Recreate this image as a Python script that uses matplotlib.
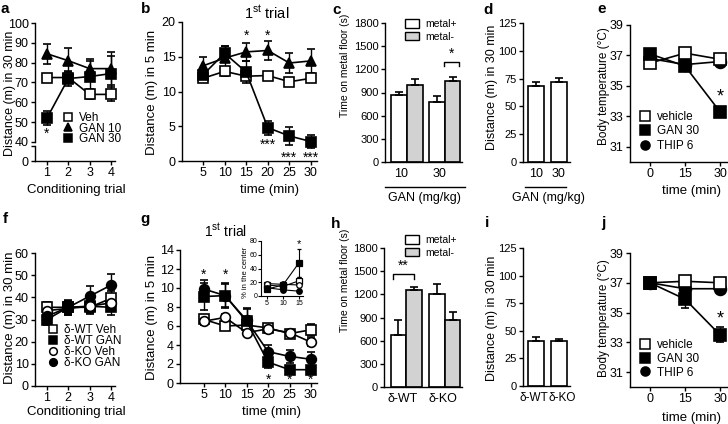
import numpy as np
import matplotlib.pyplot as plt
from matplotlib.lines import Line2D
from matplotlib.patches import Patch

plt.rcParams['font.family'] = ['Liberation Sans', 'DejaVu Sans']
plt.rcParams['mathtext.fontset'] = 'custom'
plt.rcParams['mathtext.rm'] = 'Liberation Sans'
plt.rcParams['axes.linewidth'] = 1.0

# ---- data ----
trials = [1, 2, 3, 4]
a_veh = [72.5, 72.5, 64, 64]
a_veh_err = [2, 3, 2.5, 3.5]
a_gan10 = [84.5, 81, 77, 77]
a_gan10_err = [5, 6.5, 5, 8.5]
a_gan30 = [52, 72, 73, 74.5]
a_gan30_err = [3.5, 4, 8, 9]

minutes = [5, 10, 15, 20, 25, 30]
b_veh = [11.9, 12.9, 12.2, 12.3, 11.4, 11.9]
b_veh_err = [0.6, 0.6, 0.5, 0.5, 0.5, 0.6]
b_gan10 = [13.7, 14.8, 15.7, 15.9, 14.1, 14.4]
b_gan10_err = [1.2, 1.8, 1.3, 1.4, 1.4, 1.7]
b_gan30 = [12.4, 15.5, 12.8, 4.8, 3.6, 2.8]
b_gan30_err = [0.8, 1.1, 1.6, 1.0, 1.3, 1.0]

gan_doses = ['10', '30']
c_plus = [870, 783]
c_plus_err = [35, 78]
c_minus = [1000, 1043]
c_minus_err = [75, 53]
d_dist = [68, 71.5]
d_dist_err = [4, 4]

temp_times = [0, 15, 30]
e_veh = [36.5, 37.15, 36.75]
e_veh_err = [0.2, 0.2, 0.2]
e_gan30 = [37.1, 36.3, 33.3]
e_gan30_err = [0.2, 0.35, 0.25]
e_thip = [36.8, 36.4, 36.6]
e_thip_err = [0.2, 0.3, 0.2]

f_wt_veh = [35.5, 35.5, 35.5, 39.5]
f_wt_veh_err = [2.5, 3, 2, 3.5]
f_wt_gan = [30, 35.5, 36, 35.5]
f_wt_gan_err = [2.5, 3, 3.5, 3.5]
f_ko_veh = [34, 35, 36, 37.5]
f_ko_veh_err = [3, 3, 3, 3]
f_ko_gan = [31.5, 35.5, 40.5, 45.5]
f_ko_gan_err = [3, 3.5, 4.5, 5]

g_wt_veh = [6.7, 6.0, 6.1, 5.8, 5.2, 5.6]
g_wt_veh_err = [0.5, 0.3, 0.4, 0.4, 0.4, 0.6]
g_wt_gan = [9.1, 9.2, 6.5, 2.2, 1.4, 1.4]
g_wt_gan_err = [1.4, 1.2, 1.3, 0.6, 0.3, 0.3]
g_ko_veh = [6.5, 6.9, 5.3, 5.7, 5.3, 4.3]
g_ko_veh_err = [0.4, 0.4, 0.3, 0.4, 0.3, 0.4]
g_ko_gan = [9.9, 9.2, 6.6, 3.3, 2.8, 2.5]
g_ko_gan_err = [0.9, 1.3, 1.3, 0.7, 0.7, 0.8]

inset_times = [5, 10, 15]
in_wt_veh = [16, 14, 22]
in_wt_veh_err = [2, 2, 6]
in_wt_gan = [10, 16, 48]
in_wt_gan_err = [2, 2, 20]
in_ko_veh = [18, 17, 16]
in_ko_veh_err = [2, 2, 3]
in_ko_gan = [12, 9, 7]
in_ko_gan_err = [2, 2, 3]

genotypes = ['\u03b4-WT', '\u03b4-KO']
h_plus = [674, 1204]
h_plus_err = [196, 130]
h_minus = [1261, 870]
h_minus_err = [35, 95]
i_dist = [41, 40.5]
i_dist_err = [3.5, 2.5]

j_veh = [37.0, 37.1, 37.0]
j_veh_err = [0.15, 0.2, 0.2]
j_gan30 = [37.0, 35.9, 33.5]
j_gan30_err = [0.15, 0.6, 0.5]
j_thip = [37.0, 36.6, 36.6]
j_thip_err = [0.15, 0.2, 0.3]

W, H = 728, 424
fig = plt.figure(figsize=(W / 100, H / 100), dpi=100)


def box(l, t, r, b):
    return [l / W, 1 - b / H, (r - l) / W, (b - t) / H]


def ftext(x, y, s, **kw):
    fig.text(x / W, 1 - y / H, s, **kw)


def style(ax, fs=9):
    ax.spines[['top', 'right']].set_visible(False)
    ax.tick_params(direction='out', length=3, width=1, labelsize=fs, pad=1.5)


def series(ax, x, y, err, marker, filled, ms=7):
    ax.errorbar(x, y, yerr=err, color='k', marker=marker, ms=ms,
                mfc='k' if filled else 'white', mec='k', mew=1.2, lw=1.2,
                capsize=3, elinewidth=1, capthick=1, clip_on=False, zorder=3)


def bar_pair(ax, plus, plus_err, minus, minus_err, width=0.41):
    pos = np.arange(len(plus))
    ekw = dict(ecolor='k', capsize=3, elinewidth=1.2, capthick=1.2)
    ax.bar(pos - width / 2, plus, width, yerr=[np.zeros(len(plus)), plus_err],
           color='white', edgecolor='k', linewidth=1.2, error_kw=ekw)
    ax.bar(pos + width / 2, minus, width, yerr=[np.zeros(len(minus)), minus_err],
           color='#d2d2d2', edgecolor='k', linewidth=1.2, error_kw=ekw)


def legend_at(ax, handles, labels, x0, ytop, fs, spacing, hl=1.0, pad=0.45, hh=0.7):
    ax.legend(handles, labels, loc='upper left', frameon=False, fontsize=fs,
              bbox_to_anchor=(x0 / W, 1 - ytop / H), bbox_transform=fig.transFigure,
              borderpad=0, borderaxespad=0, handlelength=hl, handletextpad=pad,
              handleheight=hh, labelspacing=spacing)


def mk(marker, filled, ms=5.5):
    return Line2D([], [], ls='none', marker=marker, ms=ms, mfc='k' if filled else 'white',
                  mec='k', mew=1.1)


# ---- panel a (broken axis) ----
ax_a = fig.add_axes(box(35, 23, 115, 142))
style(ax_a)
ax_a.spines['bottom'].set_visible(False)
ax_a.set_ylim(40, 100)
ax_a.set_yticks([40, 50, 60, 70, 80, 90, 100])
ax_a.set_xlim(0.44, 4.19)
ax_a.set_xticks([])
series(ax_a, trials, a_veh, a_veh_err, 's', False)
series(ax_a, trials, a_gan10, a_gan10_err, '^', True)
series(ax_a, trials, a_gan30, a_gan30_err, 's', True)
ax_a.text(1, 44, '*', ha='center', va='center', fontsize=10)
legend_at(ax_a, [mk('s', False), mk('^', True), mk('s', True)], ['Veh', 'GAN 10', 'GAN 30'],
          62, 112, 8.5, -0.12)
ax_a0 = fig.add_axes(box(35, 146, 115, 161))
style(ax_a0)
ax_a0.set_ylim(0, 7.5)
ax_a0.set_yticks([0, 7.5])
ax_a0.set_yticklabels(['0', ''])
ax_a0.set_xlim(0.44, 4.19)
ax_a0.set_xticks(trials)
ftext(10, 93, 'Distance (m) in 30 min', rotation=90, ha='center', va='center', fontsize=9)
ftext(76, 190, 'Conditioning trial', ha='center', va='center', fontsize=9.5)

# ---- panel b ----
ax_b = fig.add_axes(box(182, 22, 317, 161))
style(ax_b)
ax_b.set_xlim(0.14, 31.4)
ax_b.set_ylim(0, 20)
ax_b.set_xticks(minutes)
ax_b.set_yticks([0, 5, 10, 15, 20])
series(ax_b, minutes, b_veh, b_veh_err, 's', False)
series(ax_b, minutes, b_gan10, b_gan10_err, '^', True)
series(ax_b, minutes, b_gan30, b_gan30_err, 's', True)
for t in [15, 20]:
    ax_b.text(t, 18.0, '*', ha='center', va='center', fontsize=10)
for t, yv in zip([20, 25, 30], [2.4, 0.5, 0.5]):
    ax_b.text(t, yv, '***', ha='center', va='center', fontsize=10)
ftext(152, 92, 'Distance (m) in 5 min', rotation=90, ha='center', va='center', fontsize=9.5)
ftext(270, 190, 'time (min)', ha='center', va='center', fontsize=9.5)
ftext(267, 13, '1$^{\\mathrm{st}}$ trial', ha='center', va='center', fontsize=10.5)

# ---- panel c ----
ax_c = fig.add_axes(box(385, 23, 462, 162))
style(ax_c, 8)
ax_c.set_ylim(0, 1800)
ax_c.set_yticks(range(0, 1801, 300))
ax_c.set_xlim(-0.58, 1.45)
bar_pair(ax_c, c_plus, c_plus_err, c_minus, c_minus_err)
ax_c.set_xticks([-0.15, 0.85])
ax_c.set_xticklabels(gan_doses)
ax_c.tick_params(axis='x', length=0, pad=4, labelsize=9)
ax_c.plot([0.98, 0.98, 1.38, 1.38], [1240, 1290, 1290, 1240], color='k', lw=1, clip_on=False)
ax_c.text(1.18, 1400, '*', ha='center', va='center', fontsize=10)
ax_c.plot([0, 1.04], [-0.18, -0.18], transform=ax_c.transAxes, color='k', lw=1, clip_on=False)
legend_at(ax_c, [Patch(fc='white', ec='k', lw=1), Patch(fc='#d2d2d2', ec='k', lw=1)],
          ['metal+', 'metal-'], 405, 19, 7.5, 0.25, hl=1.35, pad=0.55, hh=0.85)
ftext(345, 65, 'Time on metal floor (s)', rotation=90, ha='center', va='center', fontsize=7.5)
ftext(424, 198, 'GAN (mg/kg)', ha='center', va='center', fontsize=9)

# ---- panel d ----
ax_d = fig.add_axes(box(523, 23, 570, 162))
style(ax_d, 8)
ax_d.set_ylim(0, 125)
ax_d.set_yticks(range(0, 126, 25))
ax_d.set_xlim(-0.565, 1.48)
ax_d.bar(range(len(d_dist)), d_dist, 0.7, yerr=[np.zeros(2), d_dist_err], color='white',
         edgecolor='k', linewidth=1.2,
         error_kw=dict(ecolor='k', capsize=3, elinewidth=1.2, capthick=1.2))
ax_d.set_xticks(range(len(gan_doses)))
ax_d.set_xticklabels(gan_doses)
ax_d.tick_params(axis='x', length=0, pad=4, labelsize=9)
ax_d.plot([0.04, 0.92], [-0.18, -0.18], transform=ax_d.transAxes, color='k', lw=1, clip_on=False)
ftext(492, 87, 'Distance (m) in 30 min', rotation=90, ha='center', va='center', fontsize=9)
ftext(548, 198, 'GAN (mg/kg)', ha='center', va='center', fontsize=9)

# ---- panel e ----
ax_e = fig.add_axes(box(630, 25, 727, 162))
style(ax_e)
ax_e.set_ylim(30, 39)
ax_e.set_yticks([31, 33, 35, 37, 39])
ax_e.set_xlim(-8.6, 33)
ax_e.set_xticks(temp_times)
series(ax_e, temp_times, e_thip, e_thip_err, 'o', True, ms=8.5)
series(ax_e, temp_times, e_veh, e_veh_err, 's', False, ms=8.5)
series(ax_e, temp_times, e_gan30, e_gan30_err, 's', True, ms=8.5)
ax_e.text(30, 34.3, '*', ha='center', va='center', fontsize=13)
legend_at(ax_e, [mk('s', False, 6.5), mk('s', True, 6.5), mk('o', True, 6.5)],
          ['vehicle', 'GAN 30', 'THIP 6'], 639, 111, 8.5, 0.2, hl=1.0, pad=0.55)
ftext(604, 86, 'Body temperature (\u00b0C)', rotation=90, ha='center', va='center', fontsize=8.5)
ftext(692, 191, 'time (min)', ha='center', va='center', fontsize=9.5)

# ---- panel f ----
ax_f = fig.add_axes(box(35, 253, 115, 386))
style(ax_f)
ax_f.set_ylim(0, 60)
ax_f.set_yticks(range(0, 61, 10))
ax_f.set_xlim(0.44, 4.19)
ax_f.set_xticks(trials)
series(ax_f, trials, f_wt_veh, f_wt_veh_err, 's', False)
series(ax_f, trials, f_wt_gan, f_wt_gan_err, 's', True)
series(ax_f, trials, f_ko_veh, f_ko_veh_err, 'o', False)
series(ax_f, trials, f_ko_gan, f_ko_gan_err, 'o', True)
legend_at(ax_f, [mk('s', False), mk('s', True), mk('o', False), mk('o', True)],
          ['\u03b4-WT Veh', '\u03b4-WT GAN', '\u03b4-KO Veh', '\u03b4-KO GAN'],
          47, 324, 8.5, -0.08)
ftext(10, 318, 'Distance (m) in 30 min', rotation=90, ha='center', va='center', fontsize=9.5)
ftext(76, 412, 'Conditioning trial', ha='center', va='center', fontsize=9.5)

# ---- panel g ----
ax_g = fig.add_axes(box(180, 250, 317, 383))
style(ax_g)
ax_g.set_ylim(0, 14)
ax_g.set_yticks(range(0, 15, 2))
ax_g.set_xlim(-0.5, 31.4)
ax_g.set_xticks(minutes)
series(ax_g, minutes, g_wt_veh, g_wt_veh_err, 's', False)
series(ax_g, minutes, g_ko_veh, g_ko_veh_err, 'o', False)
series(ax_g, minutes, g_wt_gan, g_wt_gan_err, 's', True)
series(ax_g, minutes, g_ko_gan, g_ko_gan_err, 'o', True)
for t in [5, 10]:
    ax_g.text(t, 11.4, '*', ha='center', va='center', fontsize=10)
for t in [20, 25, 30]:
    ax_g.text(t, 0.3, '*', ha='center', va='center', fontsize=10)
ftext(152, 317, 'Distance (m) in 5 min', rotation=90, ha='center', va='center', fontsize=9.5)
ftext(272, 412, 'time (min)', ha='center', va='center', fontsize=9.5)
ftext(226, 231, '1$^{\\mathrm{st}}$ trial', ha='center', va='center', fontsize=10)

ax_in = fig.add_axes(box(261, 241, 303, 296))
style(ax_in, 5)
ax_in.tick_params(length=2, pad=0.6, width=0.8)
for sp in ax_in.spines.values():
    sp.set_linewidth(0.8)
ax_in.set_ylim(0, 80)
ax_in.set_yticks(range(0, 81, 20))
ax_in.set_xlim(3.1, 16.3)
ax_in.set_xticks(inset_times)
for vals, errs, m, f in [(in_wt_veh, in_wt_veh_err, 's', False), (in_ko_veh, in_ko_veh_err, 'o', False),
                         (in_wt_gan, in_wt_gan_err, 's', True), (in_ko_gan, in_ko_gan_err, 'o', True)]:
    ax_in.errorbar(inset_times, vals, yerr=errs, color='k', marker=m, ms=4,
                   mfc='k' if f else 'white', mec='k', mew=0.9, lw=0.8,
                   capsize=1.5, elinewidth=0.8, capthick=0.8, clip_on=False)
ax_in.text(15, 76, '*', ha='center', va='center', fontsize=8)
ftext(245, 272, '% in the center', rotation=90, ha='center', va='center', fontsize=5.5)

# ---- panel h ----
ax_h = fig.add_axes(box(384, 248, 462, 387))
style(ax_h, 8)
ax_h.set_ylim(0, 1800)
ax_h.set_yticks(range(0, 1801, 300))
ax_h.set_xlim(-0.58, 1.45)
bar_pair(ax_h, h_plus, h_plus_err, h_minus, h_minus_err)
ax_h.set_xticks([-0.1, 0.95])
ax_h.set_xticklabels(genotypes)
ax_h.tick_params(axis='x', length=0, pad=4, labelsize=9)
ax_h.plot([-0.35, -0.35, 0.2, 0.2], [1400, 1465, 1465, 1400], color='k', lw=1, clip_on=False)
ax_h.text(-0.075, 1570, '**', ha='center', va='center', fontsize=10)
legend_at(ax_h, [Patch(fc='white', ec='k', lw=1), Patch(fc='#d2d2d2', ec='k', lw=1)],
          ['metal+', 'metal-'], 405, 235, 7.5, 0.25, hl=1.35, pad=0.55, hh=0.85)
ftext(345, 280, 'Time on metal floor (s)', rotation=90, ha='center', va='center', fontsize=7.5)

# ---- panel i ----
ax_i = fig.add_axes(box(523, 248, 570, 386))
style(ax_i, 8)
ax_i.set_ylim(0, 125)
ax_i.set_yticks(range(0, 126, 25))
ax_i.set_xlim(-0.565, 1.48)
ax_i.bar(range(len(i_dist)), i_dist, 0.7, yerr=[np.zeros(2), i_dist_err], color='white',
         edgecolor='k', linewidth=1.2,
         error_kw=dict(ecolor='k', capsize=3, elinewidth=1.2, capthick=1.2))
ax_i.set_xticks([-0.1, 1.15])
ax_i.set_xticklabels(genotypes)
ax_i.tick_params(axis='x', length=0, pad=4, labelsize=8.5)
ftext(492, 318, 'Distance (m) in 30 min', rotation=90, ha='center', va='center', fontsize=9)

# ---- panel j ----
ax_j = fig.add_axes(box(630, 253, 727, 387))
style(ax_j)
ax_j.set_ylim(30, 39)
ax_j.set_yticks([31, 33, 35, 37, 39])
ax_j.set_xlim(-8.6, 33)
ax_j.set_xticks(temp_times)
series(ax_j, temp_times, j_thip, j_thip_err, 'o', True, ms=8.5)
series(ax_j, temp_times, j_veh, j_veh_err, 's', False, ms=8.5)
series(ax_j, temp_times, j_gan30, j_gan30_err, 's', True, ms=8.5)
ax_j.text(30, 34.6, '*', ha='center', va='center', fontsize=13)
legend_at(ax_j, [mk('s', False, 6.5), mk('s', True, 6.5), mk('o', True, 6.5)],
          ['vehicle', 'GAN 30', 'THIP 6'], 639, 339, 8.5, 0.15, hl=1.0, pad=0.55)
ftext(604, 318, 'Body temperature (\u00b0C)', rotation=90, ha='center', va='center', fontsize=8.5)
ftext(692, 418, 'time (min)', ha='center', va='center', fontsize=9.5)

# panel letters
for letter, x, y in [('a', 5, 9), ('b', 146, 9), ('c', 337, 10), ('d', 488, 10), ('e', 602, 9),
                     ('f', 5, 219), ('g', 145, 219), ('h', 336, 224), ('i', 487, 223), ('j', 603, 223)]:
    ftext(x, y, letter, ha='center', va='center', fontsize=11, fontweight='bold')

fig.savefig('out.png', dpi=100)
